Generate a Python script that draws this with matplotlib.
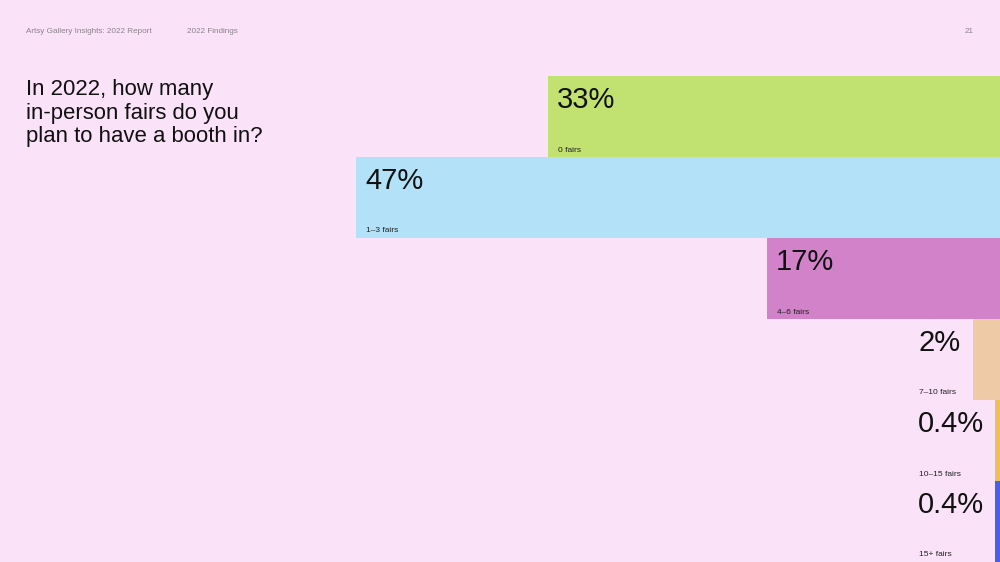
import matplotlib
matplotlib.use("Agg")
import matplotlib.pyplot as plt

categories = ["0 fairs", "1–3 fairs", "4–6 fairs", "7–10 fairs", "10–15 fairs", "15+ fairs"]
values = [33, 47, 17, 2, 0.4, 0.4]
value_labels = ["33%", "47%", "17%", "2%", "0.4%", "0.4%"]
colors = ["#C1E170", "#B2E1F8", "#D282C8", "#EECBA6", "#EDBF5A", "#4A5FE8"]
title_lines = ["In 2022, how many", "in-person fairs do you", "plan to have a booth in?"]

BG = "#FAE3F8"
plt.rcParams['font.family'] = ['Liberation Sans', 'DejaVu Sans']

W, H = 1000, 562
fig = plt.figure(figsize=(10, 5.62), dpi=100, facecolor=BG)
ax = fig.add_axes([0, 0, 1, (H - 76) / H])
ax.set_facecolor(BG)

px_per_pct = 13.7
ax.set_xlim(W / px_per_pct, 0)
ax.set_ylim(len(values) - 0.5, -0.5)
ax.axis('off')

ax.barh(range(len(values)), values, left=0, height=1.0, color=colors, linewidth=0)

pt = 72 / 100  # points per pixel
min_text_pct = 91 / px_per_pct
for i, (v, lab, cat) in enumerate(zip(values, value_labels, categories)):
    xa = max(v, min_text_pct)
    ax.annotate(lab, xy=(xa, i - 0.5), xycoords='data',
                xytext=(9 * pt, -32 * pt), textcoords='offset points',
                ha='left', va='baseline', fontsize=21, color='#111111')
    ax.annotate(cat, xy=(xa, i + 0.5), xycoords='data',
                xytext=(10 * pt, 5.5 * pt), textcoords='offset points',
                ha='left', va='baseline', fontsize=6, color='#222222')

# Header
hdr_col = '#8C838C'
fig.text(26 / W, 1 - 33 / H, "Artsy Gallery Insights: 2022 Report", fontsize=5.9, color=hdr_col, va='baseline', ha='left')
fig.text(187 / W, 1 - 33 / H, "2022 Findings", fontsize=5.9, color=hdr_col, va='baseline', ha='left')
fig.text(974 / W, 1 - 33 / H, "21", fontsize=5.9, color=hdr_col, va='baseline', ha='right')

# Title
for k, line in enumerate(title_lines):
    fig.text(26 / W, 1 - (95 + 23.5 * k) / H, line,
             fontsize=15.9, color='#111111', va='baseline', ha='left')

fig.savefig("out.png", dpi=100, facecolor=BG)
